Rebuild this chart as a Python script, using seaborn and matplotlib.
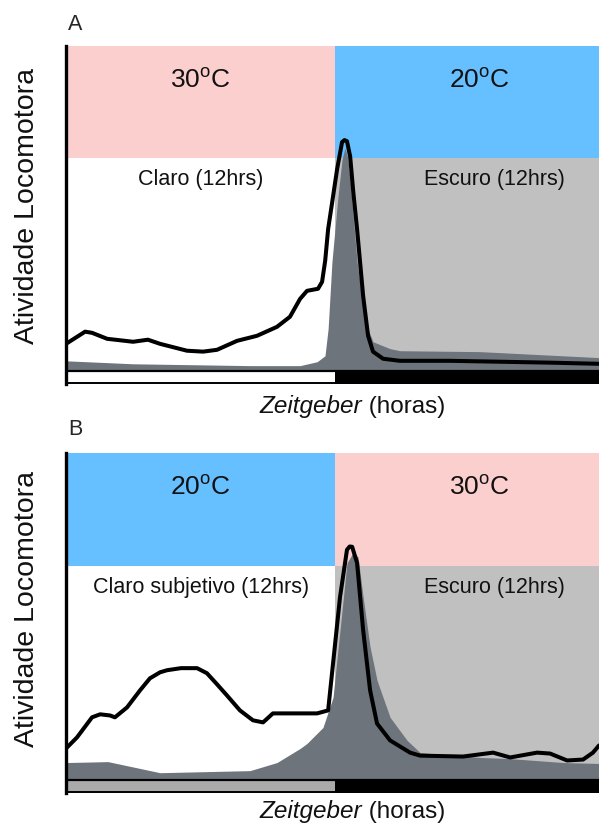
import numpy as np
import pandas as pd
import matplotlib
matplotlib.use("Agg")
import matplotlib.pyplot as plt
import seaborn as sns

sns.set_theme(style="white")
plt.rcParams["font.family"] = ["Liberation Sans", "DejaVu Sans"]

# ---------------- data (Zeitgeber hours, activity in arbitrary units) -------------
a_line_h = [0, 0.85, 1.16, 1.83, 2.99, 3.65, 4.19, 5.39, 6.11, 6.73, 7.62, 8.51, 9.40,
            9.98, 10.43, 10.74, 11.23, 11.41, 11.55, 11.68, 11.90, 12.08, 12.30, 12.41,
            12.52, 12.66, 12.80, 12.97, 13.24, 13.46, 13.68, 14.13, 14.88, 17.11,
            19.34, 21.57, 23.75]
a_line_v = [11.7, 17.0, 16.5, 13.9, 12.6, 13.5, 11.7, 8.7, 8.3, 9.1, 13.0, 15.2, 19.1,
            23.5, 31.3, 34.8, 35.7, 38.7, 48.0, 61.7, 76.0, 87.8, 99.6, 100.5,
            100.0, 93.5, 78.0, 61.7, 32.6, 15.2, 8.3, 5.2, 4.3, 4.3,
            3.9, 3.5, 3.0]

a_fill_h = [0, 2.99, 8.2, 10.43, 11.19, 11.54, 11.68, 11.85, 12.12, 12.30, 12.43, 12.55,
            12.66, 12.97, 13.33, 13.68, 14.44, 14.88, 18.45, 23.75]
a_fill_v = [4.3, 3.0, 2.2, 2.2, 3.9, 6.5, 18.3, 47.4, 76.0, 92.0, 97.0, 93.0,
            83.0, 47.4, 21.3, 12.6, 9.6, 8.7, 8.3, 5.7]

b_line_h = [0, 0.49, 1.16, 1.52, 1.96, 2.18, 2.72, 3.30, 3.74, 4.19, 4.50, 5.12, 5.84,
            6.28, 6.73, 7.17, 7.75, 8.33, 8.78, 9.22, 11.19, 11.68, 11.90, 12.21, 12.52,
            12.64, 12.75, 12.97, 13.24, 13.55, 13.86, 14.44, 15.33, 15.78, 17.69,
            19.03, 19.79, 20.99, 21.57, 22.33, 23.04, 23.48, 23.75]
b_line_v = [13.5, 18.3, 27.0, 28.3, 27.8, 27.0, 31.3, 38.7, 43.9, 46.5, 47.4, 48.3, 48.3,
            46.1, 41.3, 36.5, 30.0, 25.7, 24.8, 28.7, 28.7, 30.0, 50.4, 79.1, 99.6,
            101.0, 100.9, 93.9, 64.8, 38.7, 24.3, 17.0, 11.7, 10.4, 10.0,
            11.7, 9.6, 11.7, 11.3, 8.3, 8.7, 11.7, 14.8]

b_fill_h = [0, 1.87, 4.19, 8.2, 9.40, 10.43, 10.74, 11.45, 11.90, 12.21, 12.52, 12.79,
            13.01, 13.24, 13.55, 13.86, 14.44, 15.20, 15.78, 18.45, 19.79, 22.15, 23.75]
b_fill_v = [7.4, 7.8, 3.0, 3.9, 7.4, 13.5, 15.7, 22.6, 35.7, 64.8, 93.9, 98.3,
            96.5, 79.1, 57.4, 43.0, 27.0, 17.0, 11.7, 9.6, 9.1, 7.4, 7.0]

panels = ["A", "B"]
temps = [("30", "20"), ("20", "30")]
phase_labels = [("Claro (12hrs)", "Escuro (12hrs)"),
                ("Claro subjetivo (12hrs)", "Escuro (12hrs)")]

# ---------------- styling ----------------
PINK = "#fccfcf"
BLUE = "#66bfff"
LGRAY = "#c0c0c0"
DGRAY = "#6e747c"
BARGRAY = "#aaaaaa"

XMAX = 23.75
YTOP = 141.5
YBOT = -5.8
BAND = 92.5

fig = plt.figure(figsize=(5.99, 8.29), dpi=100)
axA = fig.add_axes([0.1102, 0.5356, 0.8898, 0.4077])
axB = fig.add_axes([0.1102, 0.0422, 0.8898, 0.4101])

data = [
    (axA, a_line_h, a_line_v, a_fill_h, a_fill_v, "white"),
    (axB, b_line_h, b_line_v, b_fill_h, b_fill_v, BARGRAY),
]
temp_color = {"30": PINK, "20": BLUE}

for i, (ax, lh, lv, fh, fv, barleft) in enumerate(data):
    ax.set_xlim(0, XMAX)
    ax.set_ylim(YBOT, YTOP)
    t_left, t_right = temps[i]
    # temperature bands
    ax.fill_between([0, 12], BAND, YTOP, color=temp_color[t_left], lw=0, zorder=0)
    ax.fill_between([12, XMAX], BAND, YTOP, color=temp_color[t_right], lw=0, zorder=0)
    # dark-phase background
    ax.fill_between([12, XMAX], 0, BAND, color=LGRAY, lw=0, zorder=0)
    # mean activity (grey area)
    ax.fill_between(fh, 0, fv, color=DGRAY, lw=0, zorder=1)
    # activity line
    df = pd.DataFrame({"h": lh, "v": lv})
    sns.lineplot(data=df, x="h", y="v", color="black", lw=2.9, ax=ax, zorder=3,
                 solid_joinstyle="round", solid_capstyle="round")
    # light/dark bar
    ax.fill_between([0, 12], YBOT, 0, color=barleft, lw=0, zorder=2)
    ax.fill_between([12, XMAX], YBOT, 0, color="black", lw=0, zorder=2)
    ax.axhline(0, color="black", lw=1.6, zorder=4)
    ax.axhline(YBOT + 0.4, color="black", lw=1.4, zorder=4)

    # texts
    ax.text(6.0, 127.0, f"{t_left}$^\\mathregular{{o}}$C", ha="center", va="center",
            fontsize=19, color="#111111")
    ax.text(18.4, 127.0, f"{t_right}$^\\mathregular{{o}}$C", ha="center", va="center",
            fontsize=19, color="#111111")
    ax.text(6.0, 83.8, phase_labels[i][0], ha="center", va="center", fontsize=15.5,
            color="#111111")
    ax.text(19.1, 83.8, phase_labels[i][1], ha="center", va="center", fontsize=15.5,
            color="#111111")

    ax.set_xlabel("")
    ax.set_ylabel("")
    ax.set_xticks([])
    ax.set_yticks([])
    for s in ["top", "right", "bottom"]:
        ax.spines[s].set_visible(False)
    ax.spines["left"].set_color("black")
    ax.spines["left"].set_linewidth(2.4)
    ax.spines["left"].set_zorder(5)

# panel letters, axis titles
fig.text(75 / 599, 1 - 25 / 829, "A", ha="center", va="center", fontsize=15.5)
fig.text(75 / 599, 1 - 430 / 829, "B", ha="center", va="center", fontsize=15.5)

for yc in (206, 609):
    fig.text(27 / 599, 1 - yc / 829, "Atividade Locomotora", rotation=90,
             ha="center", va="center", fontsize=20.5, color="#111111")

for yc in (407, 812):
    fig.text(362 / 599, 1 - yc / 829, "Zeitgeber", style="italic", ha="right",
             va="center", fontsize=17.5, color="#111111")
    fig.text(362 / 599, 1 - yc / 829, " (horas)", ha="left", va="center",
             fontsize=17.5, color="#111111")

fig.savefig("out.png", dpi=100)
